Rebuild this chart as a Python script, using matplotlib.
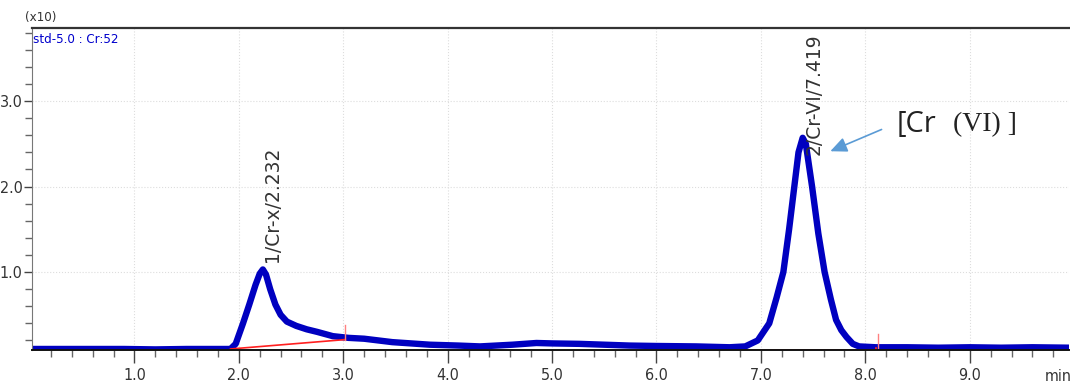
import numpy as np
import matplotlib.pyplot as plt
from matplotlib.ticker import MultipleLocator
from matplotlib import font_manager

# chromatogram trace (time in min, signal x10)
time_min = [0.02, 0.3, 0.6, 0.9, 1.2, 1.5, 1.8, 1.92,
            1.97, 2.04, 2.10, 2.16, 2.20, 2.23, 2.26, 2.30, 2.35, 2.40, 2.46,
            2.55, 2.65, 2.75, 2.90, 3.05, 3.20, 3.47, 3.83, 4.10, 4.31, 4.62,
            4.85, 5.00, 5.26, 5.50, 5.74, 6.00, 6.38, 6.70, 6.85,
            6.97, 7.08, 7.15, 7.215, 7.27, 7.32, 7.36, 7.40, 7.43, 7.46, 7.49,
            7.55, 7.61, 7.67, 7.72, 7.77, 7.82, 7.88, 7.94,
            8.10, 8.40, 8.70, 9.00, 9.30, 9.60, 9.95]
signal = [0.10, 0.10, 0.10, 0.10, 0.095, 0.10, 0.10, 0.10,
          0.16, 0.40, 0.62, 0.85, 0.98, 1.03, 0.97, 0.80, 0.62, 0.50, 0.42,
          0.37, 0.33, 0.30, 0.25, 0.23, 0.22, 0.18, 0.15, 0.14, 0.13, 0.15,
          0.17, 0.165, 0.16, 0.15, 0.14, 0.135, 0.13, 0.12, 0.13,
          0.20, 0.40, 0.70, 1.00, 1.50, 2.00, 2.40, 2.57, 2.50, 2.25, 2.00,
          1.45, 1.00, 0.68, 0.44, 0.32, 0.24, 0.16, 0.13,
          0.12, 0.12, 0.115, 0.12, 0.115, 0.12, 0.115]

# integration baselines
base1_t = [1.92, 3.02]
base1_y = [0.10, 0.21]
base2_t = [6.79, 8.10, 8.10]
base2_y = [0.09, 0.09, 0.11]

peak_t = [2.232, 7.419]
peak_names = ["1/Cr-x/2.232", "2/Cr-VI/7.419"]
label_y = [1.12, 2.37]

xticks = [1.0, 2.0, 3.0, 4.0, 5.0, 6.0, 7.0, 8.0, 9.0]
yticks = [1.0, 2.0, 3.0]

narrow = font_manager.FontProperties(family="DejaVu Sans", stretch="condensed", size=11.5)
small = font_manager.FontProperties(family="DejaVu Sans", stretch="condensed", size=9.5)

fig = plt.figure(figsize=(10.7, 3.87), dpi=100)
ax = fig.add_axes([0.030, 0.0956, 0.969, 0.832])

ax.plot(time_min, signal, color="#0000c0", lw=4.6, solid_joinstyle="round")
ax.plot(base1_t, base1_y, color="#ff2020", lw=1.2)
ax.plot(base2_t, base2_y, color="#ff2020", lw=1.2)
# little drop marks at the integration ends
ax.plot([3.02, 3.02], [0.21, 0.38], color="#ff8080", lw=1.0)
ax.plot([8.12, 8.12], [0.11, 0.28], color="#ff8080", lw=1.0)

ax.set_xlim(0.02, 9.95)
ax.set_ylim(0.088, 3.854)
ax.set_xticks(xticks)
ax.set_yticks(yticks)
ax.xaxis.set_minor_locator(MultipleLocator(0.2))
ax.yaxis.set_minor_locator(MultipleLocator(0.2))
ax.set_xticklabels(["%.1f" % v for v in xticks], fontproperties=narrow, color="#333333")
ax.set_yticklabels(["%.1f" % v for v in yticks], fontproperties=narrow, color="#333333")
ax.tick_params(axis="x", which="major", length=9, width=1.0, color="#444444", pad=4)
ax.tick_params(axis="y", which="major", length=6, width=1.0, color="#444444", pad=1)
ax.tick_params(which="minor", length=5, width=1.0, color="#666666")
ax.grid(True, which="major", color="#dddddd", lw=0.8, ls=":")

ax.spines["right"].set_visible(False)
ax.spines["top"].set_color("#333333")
ax.spines["top"].set_linewidth(1.6)
ax.spines["left"].set_color("#777777")
ax.spines["bottom"].set_color("#111111")
ax.spines["bottom"].set_linewidth(1.4)

for t, name, ly in zip(peak_t, peak_names, label_y):
    ax.text(t + 0.09, ly, name, rotation=90, ha="center", va="bottom",
            fontsize=13.5, color="#333333")

ax.annotate("", xy=(7.64, 2.40), xytext=(8.18, 2.68),
            arrowprops=dict(arrowstyle="-|>,head_length=1.0,head_width=0.45",
                            color="#5b9bd5", lw=1.2))
# callout: "[Cr" in a sans face, "(VI) ]" in a serif face like the original
ax.text(8.30, 2.72, "[Cr", family=["Open Sans"], fontsize=21,
        color="#222222", va="center", ha="left")
ax.text(8.84, 2.72, "(VI) ]", family=["Liberation Serif"], fontsize=20,
        color="#222222", va="center", ha="left")

fig.text(0.023, 0.956, "(x10)", fontproperties=small, color="#333333", va="center")
ax.text(0.001, 0.963, "std-5.0 : Cr:52", transform=ax.transAxes, fontproperties=small,
        color="#0000cc", va="center", ha="left")
fig.text(0.976, 0.028, "min", fontproperties=narrow, color="#333333", va="center")

plt.savefig("out.png", dpi=100)
